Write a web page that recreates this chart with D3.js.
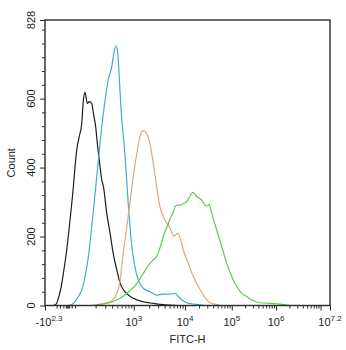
<!DOCTYPE html>
<html><head><meta charset="utf-8">
<script src="https://cdn.jsdelivr.net/npm/d3@7"></script>
<style>
body{margin:0;background:#fff}
svg{display:block}
text{font-family:"Liberation Sans",Arial,sans-serif;fill:#222}
</style>
</head><body><svg id="c" width="346" height="350"></svg>
<script>
// ---- data (x in instrument channels 0..1024, y in counts) ----
const channelMax = 1024;
const countMax = 828;
const yMajorTicks = [0, 200, 400, 600, 828];
const yMinorTicks = [40, 80, 120, 160, 240, 280, 320, 360, 440, 480, 520, 560, 640, 680, 720, 760, 800];
const xDecadeChannels = [123, 319, 503, 671, 830, 990];           // 10^2 .. 10^7
const xTickChannels = [0, 319, 503, 671, 830, 990, 1024];
const xLabelChannels = [0, 319, 503, 671, 830, 1024];
const xTickBase = ["-10", "10", "10", "10", "10", "10"];
const xTickExp = ["2.3", "3", "4", "5", "6", "7.2"];
const xLinearMinor = [42, 54, 66, 75, 78, 81, 84, 87, 96, 108];

const blackCh  = [29,40,48,56,66,78,90,102,108,114,123,132,138,144,152,159,168,174,182,188,195,204,210,222,234,245,258,270,287,317,353,389,413,449,485];
const blackCnt = [0,4,21,45,93,161,248,345,403,451,490,528,596,618,586,591,586,557,519,470,422,364,345,267,209,151,103,64,40,21,11,6,3,1,0];

const cyanCh  = [83,102,120,132,144,156,168,180,192,204,216,227,240,248,255,262,270,276,287,299,312,323,335,353,377,401,425,449,467,485,509,545,575];
const cyanCnt = [0,6,26,45,84,142,229,325,422,519,596,654,693,735,753,726,615,538,441,296,171,113,74,50,40,30,33,33,35,21,8,3,0];

const orangeCh  = [180,198,234,258,270,281,294,305,317,330,341,353,365,377,389,401,413,431,449,464,476,489,497,515,533,551,569,593,617,636];
const orangeCnt = [0,4,11,35,74,151,229,296,374,441,490,507,499,470,412,345,287,248,225,201,209,187,161,122,84,55,30,8,3,0];

const greenCh  = [162,222,258,294,330,353,377,389,401,413,425,443,449,461,467,478,485,497,509,517,527,532,545,563,575,584,590,599,617,635,653,671,689,707,725,743,773,808,844,880];
const greenCnt = [0,6,16,35,64,93,122,132,142,167,200,238,251,271,287,291,291,296,301,312,325,328,316,306,291,289,293,267,219,171,122,84,55,35,26,16,8,6,4,0];

const seriesNames = ["black", "cyan", "orange", "green"];
const seriesColors = ["#1c1c1c", "#3aaed0", "#e2a677", "#5ccb48"];

// ---- layout ----
const svg = d3.select("#c");
const L = 45, R = 330, T = 20, B = 305.5;
const x = d3.scaleLinear().domain([0, channelMax]).range([L, R]);
const y = d3.scaleLinear().domain([0, countMax]).range([B, T]);

svg.append("rect").attr("width", 346).attr("height", 350).attr("fill", "#fff");

svg.append("defs").append("clipPath").attr("id", "clip")
  .append("rect").attr("x", L).attr("y", T).attr("width", R - L).attr("height", B - T);

// curves
const toPts = (xs, ys) => xs.map((c, i) => ({ ch: c, cnt: ys[i] }));
const allSeries = [toPts(blackCh, blackCnt), toPts(cyanCh, cyanCnt), toPts(orangeCh, orangeCnt), toPts(greenCh, greenCnt)];
const line = d3.line().x(d => x(d.ch)).y(d => y(d.cnt)).curve(d3.curveMonotoneX);
const g = svg.append("g").attr("clip-path", "url(#clip)");
allSeries.forEach((s, i) => {
  g.append("path").datum(s).attr("d", line)
    .attr("fill", "none").attr("stroke", seriesColors[i]).attr("stroke-width", 1.2)
    .attr("stroke-linejoin", "round").attr("class", seriesNames[i]);
});

// frame
svg.append("rect").attr("x", L).attr("y", T).attr("width", R - L).attr("height", B - T)
  .attr("fill", "none").attr("stroke", "#2a2a2a").attr("stroke-width", 1.4);

// y axis ticks
const yAxisMajor = d3.axisLeft(y).tickValues(yMajorTicks).tickSize(5).tickFormat("");
const ya = svg.append("g").attr("transform", `translate(${L},0)`).call(yAxisMajor);
const yAxisMinor = d3.axisLeft(y).tickValues(yMinorTicks).tickSize(3).tickFormat("");
const yb = svg.append("g").attr("transform", `translate(${L},0)`).call(yAxisMinor);
[ya, yb].forEach(a => { a.select(".domain").remove(); a.selectAll("line").attr("stroke", "#2a2a2a").attr("stroke-width", 1); });

svg.append("g").selectAll("text").data(yMajorTicks).join("text")
  .attr("transform", d => `translate(35,${y(d)}) rotate(-90)`)
  .attr("text-anchor", "middle").attr("font-size", 11).text(d => d);

svg.append("text").attr("transform", `translate(15,${(T + B) / 2}) rotate(-90)`)
  .attr("text-anchor", "middle").attr("font-size", 11).text("Count");

// x axis ticks
const xMinor = [];
for (let k = 0; k < xDecadeChannels.length - 1; k++) {
  for (let m = 2; m <= 9; m++) {
    xMinor.push(xDecadeChannels[k] + Math.log10(m) * (xDecadeChannels[k + 1] - xDecadeChannels[k]));
  }
}
const xAxisMajor = d3.axisBottom(x).tickValues(xTickChannels).tickSize(5).tickFormat("");
const xa = svg.append("g").attr("transform", `translate(0,${B})`).call(xAxisMajor);
const xAxisMinor = d3.axisBottom(x).tickValues(xMinor.concat(xLinearMinor)).tickSize(3).tickFormat("");
const xb = svg.append("g").attr("transform", `translate(0,${B})`).call(xAxisMinor);
[xa, xb].forEach(a => { a.select(".domain").remove(); a.selectAll("line").attr("stroke", "#2a2a2a").attr("stroke-width", 1); });

const xl = svg.append("g").selectAll("text").data(xLabelChannels).join("text")
  .attr("x", (d, i) => x(d) + (i === 0 ? 4 : 0)).attr("y", 326)
  .attr("text-anchor", "middle").attr("font-size", 11);
xl.append("tspan").text((d, i) => xTickBase[i]);
xl.append("tspan").attr("dy", -5).attr("font-size", 8).text((d, i) => xTickExp[i]);

svg.append("text").attr("x", (L + R) / 2).attr("y", 343)
  .attr("text-anchor", "middle").attr("font-size", 11).text("FITC-H");
</script>
</body></html>
